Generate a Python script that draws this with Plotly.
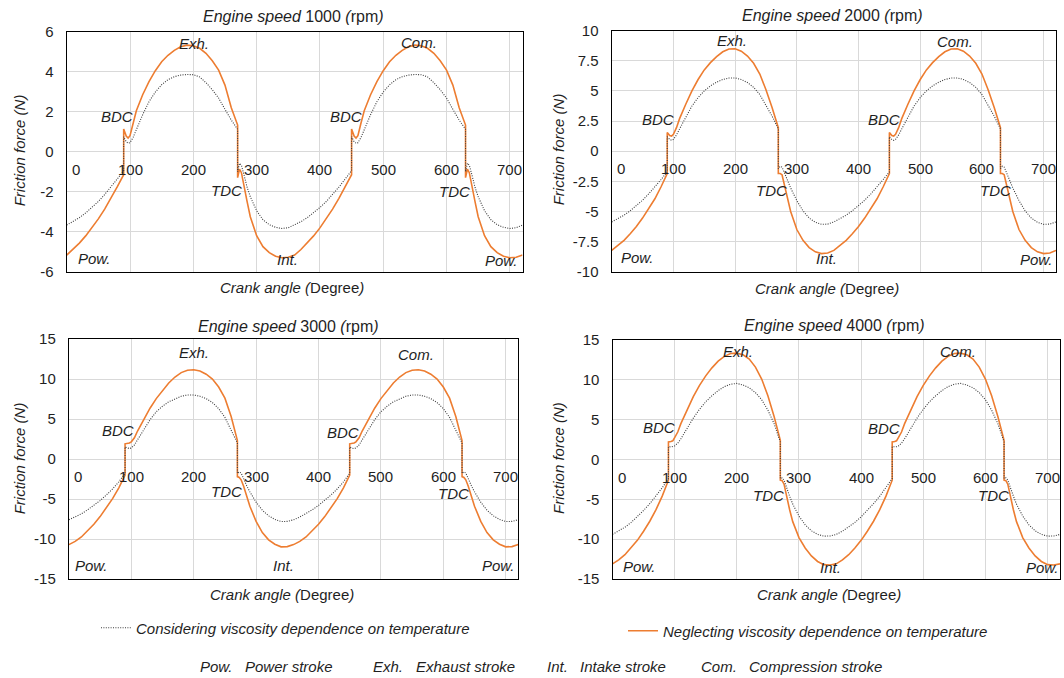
import plotly.graph_objects as go

# ---------------- data ----------------
# crank angle (degree) sample points; jumps at BDC/TDC appear as repeated angles
ANGLE = [0, 10, 20, 30, 40, 50, 60, 70, 80, 90, 90, 94, 97, 100, 105, 110, 120, 130, 140, 150,
         160, 170, 180, 190, 200, 210, 220, 230, 240, 250, 260, 270, 270, 273, 276, 280, 285, 290,
         300, 310, 320, 330, 340, 350,
         360, 370, 380, 390, 400, 410, 420, 430, 440, 450, 450, 454, 457, 460, 465, 470, 480, 490,
         500, 510, 520, 530, 540, 550, 560, 570, 580, 590, 600, 610, 620, 630, 630, 633, 636, 640,
         645, 650, 660, 670, 680, 690, 700, 710, 720]

# one engine cycle (0-350 deg) of each series; the chart shows the same cycle twice
NEG_1000 = [-5.17, -4.89, -4.57, -4.21, -3.81, -3.36, -2.87, -2.33, -1.75, -1.15,
            1.13, 0.78, 0.68, 0.8, 1.45, 2.05, 2.85, 3.5, 4.05, 4.5, 4.82, 5.07, 5.25, 5.33, 5.3,
            5.17, 4.92, 4.55, 4.08, 3.33, 2.2, 1.33,
            -1.3, -0.87, -1.05, -1.75, -2.5, -3.25, -4.2, -4.75, -5.05, -5.23, -5.3, -5.28]
CON_1000 = [-3.67, -3.50, -3.30, -3.06, -2.79, -2.49, -2.14, -1.77, -1.36, -0.95,
            0.75, 0.5, 0.42, 0.45, 0.72, 1.1, 1.85, 2.5, 2.98, 3.35, 3.6, 3.75, 3.83, 3.86, 3.85,
            3.74, 3.45, 3.1, 2.68, 2.12, 1.58, 1.12,
            -1.0, -0.58, -0.68, -1.15, -1.78, -2.25, -2.95, -3.4, -3.65, -3.78, -3.84, -3.8]

NEG_2000 = [-8.23, -7.85, -7.4, -6.85, -6.25, -5.55, -4.8, -3.95, -2.95, -1.86,
            1.55, 1.3, 1.25, 1.4, 1.95, 2.7, 3.9, 5.0, 5.95, 6.75, 7.35, 7.85, 8.25, 8.48, 8.5,
            8.3, 7.9, 7.3, 6.4, 5.1, 3.6, 1.95,
            -1.85, -1.85, -1.95, -2.8, -4.0, -5.0, -6.5, -7.4, -8.0, -8.35, -8.5, -8.45]
CON_2000 = [-5.87, -5.61, -5.31, -4.94, -4.53, -4.07, -3.54, -2.97, -2.35, -1.72,
            1.2, 0.98, 0.9, 0.98, 1.35, 1.85, 2.85, 3.75, 4.45, 5.0, 5.42, 5.73, 5.95, 6.07, 6.08,
            5.95, 5.7, 5.3, 4.7, 3.85, 2.9, 1.85,
            -1.45, -1.25, -1.32, -1.8, -2.45, -3.05, -4.1, -4.95, -5.55, -5.9, -6.07, -6.05]

NEG_3000 = [-10.7, -10.3, -9.75, -9.0, -8.15, -7.2, -6.15, -4.95, -3.6, -2.0,
            1.9, 1.95, 2.0, 2.15, 2.65, 3.5, 5.0, 6.35, 7.55, 8.6, 9.5, 10.25, 10.8, 11.1, 11.15,
            11.0, 10.6, 10.0, 9.0, 7.6, 5.3, 2.3,
            -2.2, -2.3, -2.6, -3.4, -4.6, -5.9, -7.8, -9.2, -10.1, -10.65, -10.98, -10.95]
CON_3000 = [-7.6, -7.25, -6.85, -6.35, -5.8, -5.2, -4.5, -3.75, -2.85, -1.8,
            1.5, 1.35, 1.3, 1.38, 1.75, 2.4, 3.7, 4.9, 5.9, 6.6, 7.15, 7.55, 7.85, 8.0, 8.0,
            7.85, 7.55, 7.05, 6.3, 5.2, 3.7, 2.0,
            -1.8, -1.62, -1.75, -2.5, -3.35, -4.1, -5.4, -6.4, -7.1, -7.55, -7.82, -7.8]

NEG_4000 = [-13.1, -12.6, -11.95, -11.1, -10.15, -9.0, -7.75, -6.3, -4.6, -2.6,
            2.2, 2.25, 2.35, 2.75, 3.45, 4.5, 6.3, 7.9, 9.3, 10.5, 11.5, 12.35, 12.95, 13.3, 13.35,
            13.15, 12.6, 11.6, 10.1, 8.0, 5.4, 2.4,
            -2.6, -2.65, -3.1, -4.6, -6.3, -7.8, -9.8, -11.1, -12.1, -12.8, -13.2, -13.25]
CON_4000 = [-9.4, -9.0, -8.5, -7.9, -7.2, -6.4, -5.55, -4.6, -3.55, -2.4,
            1.6, 1.58, 1.6, 1.7, 2.05, 2.6, 3.9, 5.2, 6.3, 7.25, 8.0, 8.65, 9.15, 9.45, 9.55,
            9.35, 9.0, 8.4, 7.5, 6.2, 4.5, 2.2,
            -2.4, -2.3, -2.6, -3.6, -4.6, -5.6, -7.1, -8.2, -8.95, -9.4, -9.62, -9.6]

SPEEDS = ["1000", "2000", "3000", "4000"]
X_TICKS = [0, 100, 200, 300, 400, 500, 600, 700]
X_TICK_TEXT = ["0", "100", "200", "300", "400", "500", "600", "700"]
Y_TICKS_1 = [-6, -4, -2, 0, 2, 4, 6]
Y_TEXT_1 = ["-6", "-4", "-2", "0", "2", "4", "6"]
Y_TICKS_2 = [-10, -7.5, -5, -2.5, 0, 2.5, 5, 7.5, 10]
Y_TEXT_2 = ["-10", "-7.5", "-5", "-2.5", "0", "2.5", "5", "7.5", "10"]
Y_TICKS_3 = [-15, -10, -5, 0, 5, 10, 15]
Y_TEXT_3 = ["-15", "-10", "-5", "0", "5", "10", "15"]

# ---------------- styling / layout ----------------
W, H = 1064, 678
FONT = "Liberation Sans, Arial, sans-serif"
TXT = "#1f1f1f"
ORANGE = "#ED7D31"
DOT = "#3c3c3c"

def px(x):
    return x / W

def py(y):
    return 1 - y / H

def two_cycles(c):
    return c + c + [c[0]]

panels = [
    dict(cons=CON_1000, neg=NEG_1000, ticks=Y_TICKS_1, text=Y_TEXT_1, yr=[-6, 6],
         xd=[66.7, 522.5], yd=[31.7, 271.7],
         title=(293.4, 16.3), xt=(291.5, 287.8), yt=(19, 150.3),
         labels=[("Exh.", 200.6, 5.43), ("Com.", 556, 5.48), ("BDC", 79.8, 1.75),
                 ("BDC", 441.4, 1.77), ("TDC", 252.8, -1.96), ("TDC", 611.9, -1.97),
                 ("Int.", 349.3, -5.37), ("Pow.", 43.4, -5.32), ("Pow.", 687, -5.43)]),
    dict(cons=CON_2000, neg=NEG_2000, ticks=Y_TICKS_2, text=Y_TEXT_2, yr=[-10, 10],
         xd=[611.7, 1056], yd=[30.7, 271.7],
         title=(832.5, 15.5), xt=(826.8, 288.5), yt=(558.8, 149.5),
         labels=[("Exh.", 195, 9.16), ("Com.", 556, 9.08), ("BDC", 75.7, 2.65),
                 ("BDC", 441, 2.65), ("TDC", 258.4, -3.29), ("TDC", 622.5, -3.29),
                 ("Int.", 348, -8.92), ("Pow.", 41, -8.84), ("Pow.", 689, -8.95)]),
    dict(cons=CON_3000, neg=NEG_3000, ticks=Y_TICKS_3, text=Y_TEXT_3, yr=[-15, 15],
         xd=[68.9, 518.2], yd=[339, 579],
         title=(288.4, 326), xt=(281.6, 594.8), yt=(19, 458.3),
         labels=[("Exh.", 200.4, 13.3), ("Com.", 557, 13.06), ("BDC", 78.5, 3.52),
                 ("BDC", 439, 3.35), ("TDC", 252, -4.02), ("TDC", 616, -4.25),
                 ("Int.", 344, -13.3), ("Pow.", 35.8, -13.25), ("Pow.", 688.6, -13.25)]),
    dict(cons=CON_4000, neg=NEG_4000, ticks=Y_TICKS_3, text=Y_TEXT_3, yr=[-15, 15],
         xd=[612.5, 1060], yd=[340, 579],
         title=(834.3, 325.5), xt=(828.7, 594.7), yt=(558.4, 457.5),
         labels=[("Exh.", 201.8, 13.6), ("Com.", 555.7, 13.5), ("BDC", 75.5, 4.0),
                 ("BDC", 437.4, 3.87), ("TDC", 250.6, -4.54), ("TDC", 613, -4.54),
                 ("Int.", 351.5, -13.55), ("Pow.", 42.7, -13.4), ("Pow.", 691.6, -13.6)]),
]

fig = go.Figure()
annotations = []
layout = {}

for i, p in enumerate(panels):
    n = "" if i == 0 else str(i + 1)
    xa, ya = "x" + n, "y" + n
    fig.add_trace(go.Scatter(
        x=ANGLE, y=two_cycles(p["neg"]), xaxis=xa, yaxis=ya, mode="lines",
        line=dict(color=ORANGE, width=1.6),
        name="<i>Neglecting viscosity dependence on temperature</i>",
        legend="legend2", showlegend=(i == 0), hoverinfo="skip"))
    fig.add_trace(go.Scatter(
        x=ANGLE, y=two_cycles(p["cons"]), xaxis=xa, yaxis=ya, mode="lines",
        line=dict(color=DOT, width=1.1, dash="1px,1.4px"),
        name="<i>Considering viscosity dependence on temperature</i>",
        legend="legend", showlegend=(i == 0), hoverinfo="skip"))

    layout["xaxis" + n] = dict(
        domain=[px(p["xd"][0]), px(p["xd"][1])], range=[0, 720], anchor=ya,
        tickvals=X_TICKS, showticklabels=False, ticks="", automargin=False,
        showgrid=True, gridcolor="#d9d9d9", gridwidth=1, zeroline=False,
        showline=True, mirror=True, linecolor="#000", linewidth=1.3)
    layout["yaxis" + n] = dict(
        domain=[py(p["yd"][1]), py(p["yd"][0])], range=p["yr"], anchor=xa,
        tickvals=p["ticks"], ticktext=p["text"], ticks="", automargin=False,
        tickfont=dict(family=FONT, size=15, color=TXT), ticklabelstandoff=9,
        showgrid=True, gridcolor="#d9d9d9", gridwidth=1, zeroline=False,
        showline=True, mirror=True, linecolor="#000", linewidth=1.3)

    # x tick labels sit just under the zero line
    for t, s in zip(X_TICKS, X_TICK_TEXT):
        annotations.append(dict(
            x=t, y=0, xref=xa, yref=ya, text=s, showarrow=False,
            xanchor="left" if t == 0 else "center", xshift=3 if t == 0 else 0,
            yanchor="middle", yshift=-17.5,
            font=dict(family=FONT, size=15, color=TXT)))
    # stroke / dead-centre labels
    for s, lx, ly in p["labels"]:
        annotations.append(dict(
            x=lx, y=ly, xref=xa, yref=ya, text="<i>" + s + "</i>", showarrow=False,
            xanchor="center", yanchor="middle",
            font=dict(family=FONT, size=15, color=TXT)))
    # titles
    tx, ty = p["title"]
    annotations.append(dict(
        x=px(tx), y=py(ty), xref="paper", yref="paper", showarrow=False,
        text="<i>Engine speed</i> " + SPEEDS[i] + " <i>(</i>rpm<i>)</i>",
        xanchor="center", yanchor="middle", font=dict(family=FONT, size=16, color=TXT)))
    tx, ty = p["xt"]
    annotations.append(dict(
        x=px(tx), y=py(ty), xref="paper", yref="paper", showarrow=False,
        text="<i>Crank angle (</i>Degree<i>)</i>",
        xanchor="center", yanchor="middle", font=dict(family=FONT, size=15, color=TXT)))
    tx, ty = p["yt"]
    annotations.append(dict(
        x=px(tx), y=py(ty), xref="paper", yref="paper", showarrow=False,
        text="<i>Friction force (N)</i>", textangle=-90,
        xanchor="center", yanchor="middle", font=dict(family=FONT, size=15, color=TXT)))

# stroke abbreviations key
KEY = [("Pow.", 198), ("Power stroke", 243), ("Exh.", 371), ("Exhaust stroke", 414),
       ("Int.", 545), ("Intake stroke", 578), ("Com.", 699), ("Compression stroke", 747)]
for s, lx in KEY:
    annotations.append(dict(
        x=px(lx), y=py(666.5), xref="paper", yref="paper", showarrow=False,
        text="<i>" + s + "</i>", xanchor="left", yanchor="middle",
        font=dict(family=FONT, size=15, color=TXT)))

fig.update_layout(
    width=W, height=H, margin=dict(l=0, r=0, t=0, b=0, pad=0, autoexpand=False),
    paper_bgcolor="white", plot_bgcolor="white",
    font=dict(family=FONT, size=15, color=TXT),
    annotations=annotations,
    legend=dict(x=px(96), y=py(628), xanchor="left", yanchor="middle",
                bgcolor="rgba(0,0,0,0)", font=dict(family=FONT, size=15, color=TXT),
                itemwidth=30),
    legend2=dict(x=px(623), y=py(631), xanchor="left", yanchor="middle",
                 bgcolor="rgba(0,0,0,0)", font=dict(family=FONT, size=15, color=TXT),
                 itemwidth=30),
    **layout)

# remove the browser's default page margin so the figure fills the window exactly
fig.write_html("out.html",
               config={"displayModeBar": False},
               post_script="document.body.style.margin='0px';"
                           "document.body.style.overflow='hidden';")
